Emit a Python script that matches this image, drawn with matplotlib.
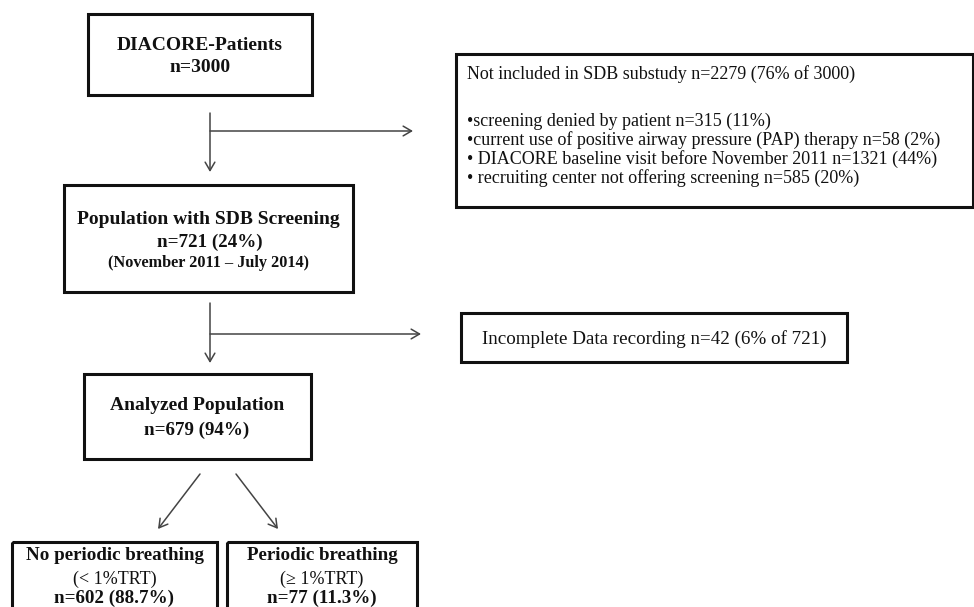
import matplotlib.pyplot as plt
from matplotlib.patches import Rectangle

plt.rcParams['font.family'] = ['Liberation Serif', 'DejaVu Serif']

# box texts
total_title = "DIACORE-Patients"
total_n = "n=3000"
screen_title = "Population with SDB Screening"
screen_n = "n=721 (24%)"
screen_period = "(November 2011 \u2013 July 2014)"
analyzed_title = "Analyzed Population"
analyzed_n = "n=679 (94%)"
excluded_head = "Not included in SDB substudy n=2279 (76% of 3000)"
excluded_items = [
    "\u2022screening denied by patient n=315 (11%)",
    "\u2022current use of positive airway pressure (PAP) therapy n=58 (2%)",
    "\u2022 DIACORE baseline visit before November 2011 n=1321 (44%)",
    "\u2022 recruiting center not offering screening n=585 (20%)",
]
incomplete_text = "Incomplete Data recording n=42 (6% of 721)"
group_titles = ["No periodic breathing", "Periodic breathing"]
group_crit = ["(< 1%TRT)", "(\u2265 1%TRT)"]
group_n = ["n=602 (88.7%)", "n=77 (11.3%)"]

W, H = 974, 607
fig = plt.figure(figsize=(W / 100, H / 100), dpi=100, facecolor='white')
ax = fig.add_axes([0, 0, 1, 1])
ax.set_xlim(0, W)
ax.set_ylim(H, 0)
ax.axis('off')


def box(x0, y0, x1, y1):
    ax.add_patch(Rectangle((x0, y0), x1 - x0, y1 - y0, fill=False,
                           edgecolor='#111111', linewidth=2.2))


def arrow(x0, y0, x1, y1):
    ax.annotate('', xy=(x1, y1), xytext=(x0, y0),
                arrowprops=dict(arrowstyle='->,head_length=0.6,head_width=0.35',
                                color='#444444', lw=1.1, shrinkA=0, shrinkB=0))


def text(x, y, s, size=14, bold=False, ha='center'):
    ax.text(x, y, s, ha=ha, va='center', fontsize=size,
            fontweight='bold' if bold else 'normal', color='#111111')


# DIACORE box
box(88, 14, 312, 95)
text(200, 45, total_title, bold=True)
text(200, 68, total_n, bold=True)

# first split
arrow(210, 113, 210, 172)
arrow(210, 131, 413, 131)

# excluded box
box(456, 54, 973, 207)
text(467, 74, excluded_head, size=13, ha='left')
for i, s in enumerate(excluded_items):
    text(467, 121 + i * 19, s, size=13, ha='left')

# screening box
box(64, 185, 353, 292)
text(208, 219, screen_title, bold=True)
text(210, 242, screen_n, bold=True, size=13.7)
text(209, 263, screen_period, bold=True, size=11.7)

# second split
arrow(210, 303, 210, 363)
arrow(210, 334, 421, 334)

# incomplete box
box(461, 313, 847, 362)
text(654, 339, incomplete_text, size=13.7)

# analyzed box
box(84, 374, 311, 459)
text(197, 406, analyzed_title, bold=True)
text(197, 430, analyzed_n, bold=True, size=13.7)

# branches
arrow(200, 474, 158, 529)
arrow(236, 474, 278, 529)

# group boxes
for i, (x0, x1) in enumerate([(12, 217), (227, 417)]):
    box(x0, 542, x1, 640)
    cx = (x0 + x1) / 2
    text(cx, 555, group_titles[i], bold=True, size=13.7)
    text(cx, 579, group_crit[i], size=13)
    text(cx, 598, group_n[i], bold=True, size=13.7)

fig.savefig('out.png', dpi=100, facecolor='white')
